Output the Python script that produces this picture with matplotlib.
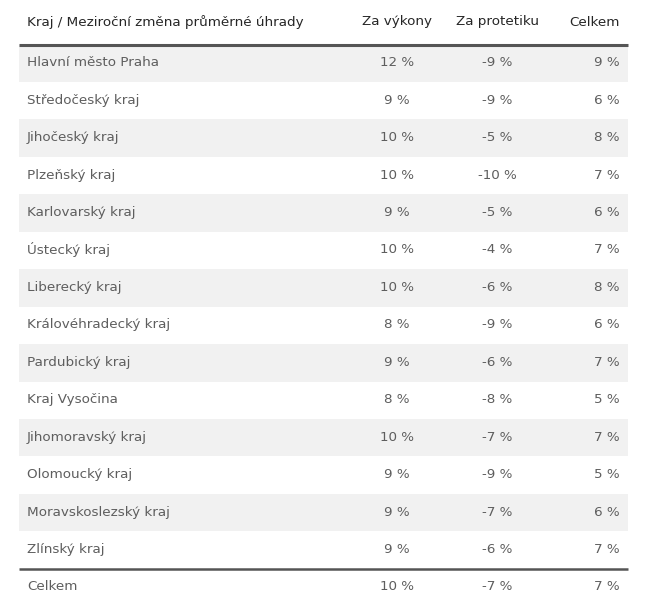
import matplotlib.pyplot as plt

kraje = ["Hlavní město Praha", "Středočeský kraj", "Jihočeský kraj", "Plzeňský kraj",
         "Karlovarský kraj", "Ústecký kraj", "Liberecký kraj", "Královéhradecký kraj",
         "Pardubický kraj", "Kraj Vysočina", "Jihomoravský kraj", "Olomoucký kraj",
         "Moravskoslezský kraj", "Zlínský kraj"]
za_vykony = [12, 9, 10, 10, 9, 10, 10, 8, 9, 8, 10, 9, 9, 9]
za_protetiku = [-9, -9, -5, -10, -5, -4, -6, -9, -6, -8, -7, -9, -7, -6]
celkem = [9, 6, 8, 7, 6, 7, 8, 6, 7, 5, 7, 5, 6, 7]
celkem_row = ["Celkem", 10, -7, 7]
headers = ["Kraj / Meziroční změna průměrné úhrady", "Za výkony", "Za protetiku", "Celkem"]

W, H = 652, 604
fig = plt.figure(figsize=(W / 100, H / 100), dpi=100)
ax = fig.add_axes([0, 0, 1, 1])
ax.set_xlim(0, W)
ax.set_ylim(H, 0)
ax.axis("off")

x_left, x_right = 19, 628
x_name = 27
x_c1, x_c2, x_c3 = 397, 497, 620
top = 44.5
row_h = 37.45
body_col = "#5e5e5e"
head_col = "#262626"
fs = 9.7

# hlavička
ax.text(x_name, 22, headers[0], ha="left", va="center", fontsize=fs, color=head_col)
ax.text(x_c1, 22, headers[1], ha="center", va="center", fontsize=fs, color=head_col)
ax.text(x_c2, 22, headers[2], ha="center", va="center", fontsize=fs, color=head_col)
ax.text(x_c3, 22, headers[3], ha="right", va="center", fontsize=fs, color=head_col)

for i, name in enumerate(kraje):
    y0 = top + i * row_h
    yc = y0 + row_h / 2 - 0.5
    if i % 2 == 0:
        ax.fill_between([x_left, x_right], y0, y0 + row_h, color="#f1f1f1", lw=0)
    ax.text(x_name, yc, name, ha="left", va="center", fontsize=fs, color=body_col)
    ax.text(x_c1, yc, f"{za_vykony[i]} %", ha="center", va="center", fontsize=fs, color=body_col)
    ax.text(x_c2, yc, f"{za_protetiku[i]} %", ha="center", va="center", fontsize=fs, color=body_col)
    ax.text(x_c3, yc, f"{celkem[i]} %", ha="right", va="center", fontsize=fs, color=body_col)

ax.plot([x_left, x_right], [top, top], color="#555555", lw=2.2, solid_capstyle="butt")
y_sum = top + len(kraje) * row_h
ax.plot([x_left, x_right], [y_sum, y_sum], color="#555555", lw=1.8, solid_capstyle="butt")

# souhrnný řádek
yc = 587
ax.text(x_name, yc, celkem_row[0], ha="left", va="center", fontsize=fs, color=body_col)
ax.text(x_c1, yc, f"{celkem_row[1]} %", ha="center", va="center", fontsize=fs, color=body_col)
ax.text(x_c2, yc, f"{celkem_row[2]} %", ha="center", va="center", fontsize=fs, color=body_col)
ax.text(x_c3, yc, f"{celkem_row[3]} %", ha="right", va="center", fontsize=fs, color=body_col)

fig.savefig("out.png", dpi=100, facecolor="white")
